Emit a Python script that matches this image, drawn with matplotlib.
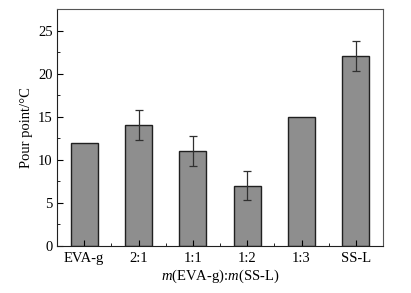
import matplotlib
matplotlib.use("Agg")
import matplotlib.pyplot as plt
from matplotlib.ticker import MultipleLocator

plt.rcParams['font.family'] = ['Liberation Serif', 'DejaVu Serif']
plt.rcParams['mathtext.fontset'] = 'custom'
plt.rcParams['mathtext.it'] = 'Liberation Serif:italic'
plt.rcParams['mathtext.rm'] = 'Liberation Serif'

labels = ['EVA-g', '2:1', '1:1', '1:2', '1:3', 'SS-L']
pour_point = [12, 14, 11, 7, 15, 22]
errors = [0, 1.75, 1.75, 1.7, 0, 1.75]

fig = plt.figure(figsize=(4.11, 2.93), dpi=100)
ax = fig.add_axes([57/411, 1 - 246/293, 326/411, 237/293])

x = range(len(labels))
ax.bar(x, pour_point, width=0.5, color='#8e8e8e', edgecolor='#202020', linewidth=1.0)
for xi, v, e in zip(x, pour_point, errors):
    if e > 0:
        ax.errorbar(xi, v, yerr=e, fmt='none', ecolor='#303030', elinewidth=0.9, capsize=3, capthick=0.9)

ax.set_xlim(-0.5, 5.5)
ax.set_ylim(0, 27.5)
ax.set_xticks(list(x))
ax.set_xticklabels(labels)
ax.set_xticks([i + 0.5 for i in range(5)], minor=True)
ax.yaxis.set_major_locator(MultipleLocator(5))
ax.yaxis.set_minor_locator(MultipleLocator(2.5))
ax.tick_params(direction='in', which='both', labelsize=10.5)
ax.tick_params(axis='x', pad=4)
ax.tick_params(axis='y', pad=3)
ax.tick_params(which='major', length=4)
ax.tick_params(which='minor', length=2.5)
ax.tick_params(top=False, right=False, which='both')

for s in ['top', 'right']:
    ax.spines[s].set_color('#555555')
for s in ['left', 'bottom']:
    ax.spines[s].set_color('#202020')

ax.set_ylabel('Pour point/°C', fontsize=10.5, labelpad=4)
ax.set_xlabel(r'$m$(EVA-g):$m$(SS-L)', fontsize=10.5, labelpad=2)

fig.savefig('out.png', dpi=100)
